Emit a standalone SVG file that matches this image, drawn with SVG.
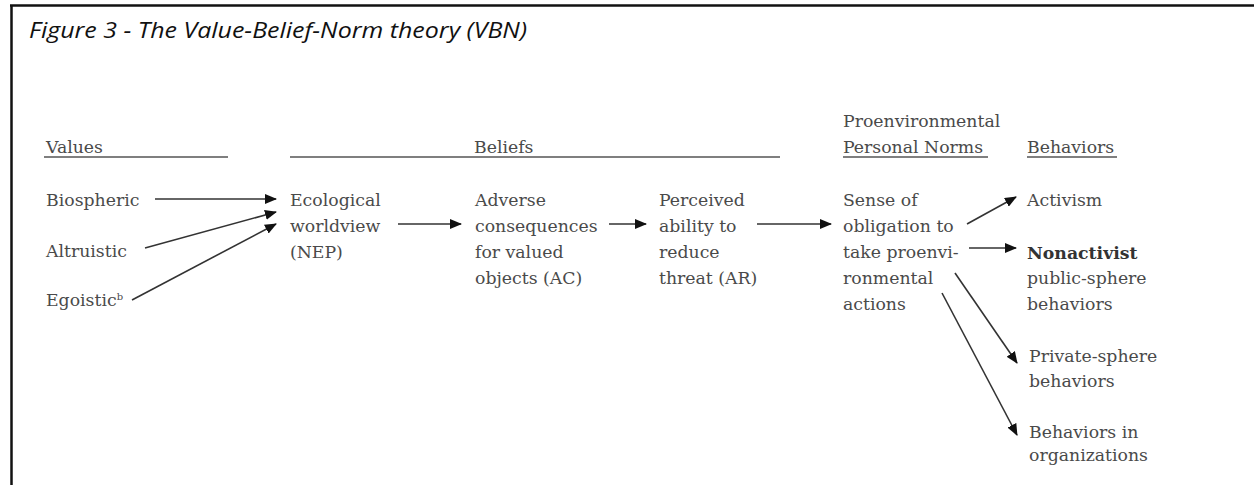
<svg xmlns="http://www.w3.org/2000/svg" width="1254" height="485" viewBox="0 0 1254 485">
<style>
.title{font-family:"Open Sans","Liberation Sans",sans-serif;font-style:italic;font-size:21px;fill:#111}
.t{font-family:"DejaVu Serif","Liberation Serif",serif;font-size:17.3px;fill:#4a4a4a}
.b{font-weight:bold;fill:#333}
.rule{stroke:#555;stroke-width:1.6}
.conn line{stroke:#333;stroke-width:1.6;marker-end:url(#ah)}
</style>
<defs>
<marker id="ah" markerWidth="12" markerHeight="10" refX="11" refY="5" orient="auto" markerUnits="userSpaceOnUse">
<path d="M0,0 L12,5 L0,10 Z" fill="#111"/>
</marker>
</defs>
<rect width="1254" height="485" fill="#fff"/>
<g id="frame">
<line x1="10" y1="5.5" x2="1254" y2="5.5" stroke="#111" stroke-width="2.5"/>
<line x1="11.5" y1="5" x2="11.5" y2="485" stroke="#111" stroke-width="2.5"/>
</g>
<text class="title" x="29" y="38" textLength="498" lengthAdjust="spacingAndGlyphs">Figure 3 - The Value-Belief-Norm theory (VBN)</text>

<g id="headers">
<text class="t" x="46" y="153">Values</text>
<line class="rule" x1="44" y1="157" x2="228" y2="157"/>
<text class="t" x="474" y="153">Beliefs</text>
<line class="rule" x1="290" y1="157" x2="780" y2="157"/>
<text class="t" x="843" y="127">Proenvironmental</text>
<text class="t" x="843" y="153">Personal Norms</text>
<line class="rule" x1="843" y1="157" x2="988" y2="157"/>
<text class="t" x="1027" y="153">Behaviors</text>
<line class="rule" x1="1027" y1="157" x2="1117" y2="157"/>
</g>

<g id="biospheric"><text class="t" x="46" y="206">Biospheric</text></g>
<g id="altruistic"><text class="t" x="46" y="257">Altruistic</text></g>
<g id="egoistic"><text class="t" x="46" y="306">Egoistic<tspan font-size="10" dy="-6">b</tspan></text></g>

<g id="nep"><text class="t" x="290" y="206">Ecological<tspan x="290" dy="26">worldview</tspan><tspan x="290" dy="26">(NEP)</tspan></text></g>
<g id="ac"><text class="t" x="475" y="206">Adverse<tspan x="475" dy="26">consequences</tspan><tspan x="475" dy="26">for valued</tspan><tspan x="475" dy="26">objects (AC)</tspan></text></g>
<g id="ar"><text class="t" x="659" y="206">Perceived<tspan x="659" dy="26">ability to</tspan><tspan x="659" dy="26">reduce</tspan><tspan x="659" dy="26">threat (AR)</tspan></text></g>
<g id="norms"><text class="t" x="843" y="206">Sense of<tspan x="843" dy="26">obligation to</tspan><tspan x="843" dy="26">take proenvi-</tspan><tspan x="843" dy="26">ronmental</tspan><tspan x="843" dy="26">actions</tspan></text></g>

<g id="activism"><text class="t" x="1027" y="206">Activism</text></g>
<g id="nonactivist"><text class="t" x="1027" y="259"><tspan class="b">Nonactivist</tspan><tspan x="1027" dy="25">public-sphere</tspan><tspan x="1027" dy="26">behaviors</tspan></text></g>
<g id="private"><text class="t" x="1029" y="362">Private-sphere<tspan x="1029" dy="25">behaviors</tspan></text></g>
<g id="organizations"><text class="t" x="1029" y="438">Behaviors in<tspan x="1029" dy="23">organizations</tspan></text></g>

<g id="connectors" class="conn">
<line x1="155" y1="199" x2="276" y2="199"/>
<line x1="145" y1="248" x2="276" y2="212"/>
<line x1="132" y1="300" x2="276" y2="224"/>
<line x1="398" y1="224" x2="461" y2="224"/>
<line x1="609" y1="224" x2="646" y2="224"/>
<line x1="757" y1="224" x2="831" y2="224"/>
<line x1="967" y1="224" x2="1016" y2="197"/>
<line x1="969" y1="248" x2="1016" y2="248"/>
<line x1="955" y1="273" x2="1017" y2="363"/>
<line x1="942" y1="293" x2="1017" y2="435"/>
</g>
</svg>
